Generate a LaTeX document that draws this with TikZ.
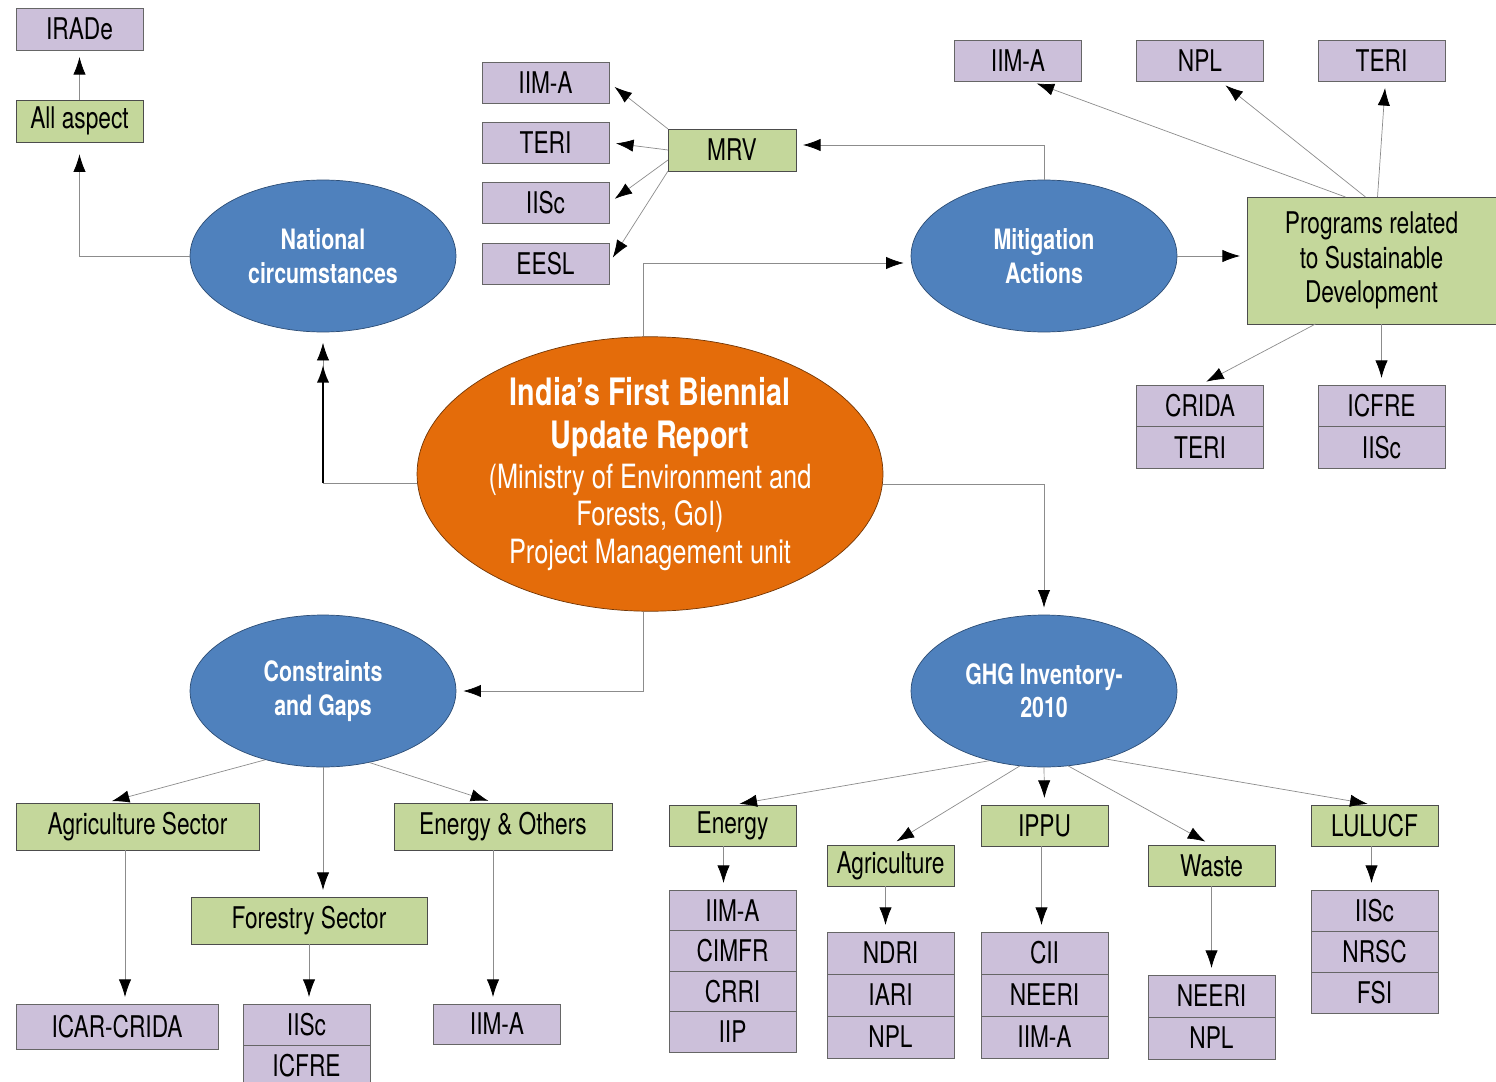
\documentclass[tikz,border=0pt]{standalone}
\usepackage{fontspec}
\setmainfont{TeX Gyre Heros}[FakeStretch=0.76]
\usetikzlibrary{arrows.meta,shapes.geometric,positioning}
\definecolor{orgfill}{HTML}{CCC0DA}
\definecolor{secfill}{HTML}{C4D79B}
\definecolor{circfill}{HTML}{4F81BD}
\definecolor{circline}{HTML}{2C4D75}
\definecolor{hubfill}{HTML}{E46C0A}
\definecolor{linkgray}{HTML}{8C8C8C}
\newcommand\hubtitle{\bfseries\fontsize{21.5}{21.5}\selectfont}
\tikzset{
  basic/.style  = {draw, rectangle, inner sep=2pt, outer sep=0pt, align=center,
                   font=\fontsize{17}{19.5}\selectfont},
  org/.style    = {basic, fill=orgfill, draw=black!60, minimum width=2.54cm,
                   minimum height=0.82cm},
  sector/.style = {basic, fill=secfill, draw=black!70, minimum width=2.54cm,
                   minimum height=0.82cm},
  circ/.style   = {ellipse, draw=circline, fill=circfill, text=white, inner sep=0pt,
                   minimum width=5.32cm, minimum height=3.04cm, align=center,
                   font=\bfseries\fontsize{16}{19}\selectfont},
  hub/.style    = {ellipse, draw=black!50!hubfill, fill=hubfill, text=white,
                   inner sep=0pt, minimum width=9.32cm, minimum height=5.36cm,
                   align=center, font=\fontsize{19}{21.5}\selectfont},
  link/.style   = {draw=linkgray, ->, shorten >=4pt}
}
\begin{document}
\begin{tikzpicture}[x=0.02cm, y=-0.02cm, >={Latex[black,length=10pt,width=7pt]}]
\useasboundingbox (0,0) rectangle (1496,1081);

% centre and the four topics
\node[hub] (bur) at (650,474) {\hubtitle India’s First Biennial\\[3pt]
  \hubtitle Update Report\\[1.3pt]
  (Ministry of Environment and\\
  Forests, GoI)\\
  Project Management unit};
\node[circ] (natl) at (323,256) {National\\circumstances};
\node[circ] (mitig) at (1044,256) {Mitigation\\Actions};
\node[circ] (cons) at (323,691) {Constraints\\and Gaps};
\node[circ] (ghg) at (1044,691) {GHG Inventory-\\2010};

% national circumstances
\node[sector, minimum height=0.84cm] (allasp) at (79.5,121) {All aspect};
\node[org, minimum height=0.84cm] (irade) at (79.5,29) {IRADe};

% MRV branch
\node[sector, minimum width=2.56cm, minimum height=0.84cm] (mrv) at (732,150) {MRV};
\node[org] (mrv1) at (545.5,82.5) {IIM-A};
\node[org] (mrv2) at (545.5,142.5) {TERI};
\node[org] (mrv3) at (545.5,203) {IISc};
\node[org] (mrv4) at (545.5,263.5) {EESL};

% sustainable development programs
\node[sector, minimum width=4.98cm, minimum height=2.54cm] (prog) at (1371.5,260.5)
  {Programs related\\to Sustainable\\Development};
\node[org] (prog1) at (1018,60.5) {IIM-A};
\node[org] (prog2) at (1200,60.5) {NPL};
\node[org] (prog3) at (1381.5,60.5) {TERI};
\node[org, minimum height=0.83cm, anchor=north] (prog4) at (1200,385) {CRIDA};
\node[org, minimum height=0.83cm, below=0pt of prog4] (prog5) {TERI};
\node[org, minimum height=0.83cm, anchor=north] (prog6) at (1381.5,385) {ICFRE};
\node[org, minimum height=0.83cm, below=0pt of prog6] (prog7) {IISc};

% constraints and gaps
\node[sector, minimum width=4.86cm, minimum height=0.94cm] (agrsec) at (137.5,826.5) {Agriculture Sector};
\node[sector, minimum width=4.36cm, minimum height=0.94cm] (enoth) at (503,826.5) {Energy \& Others};
\node[sector, minimum width=4.72cm, minimum height=0.94cm] (forsec) at (309,920.5) {Forestry Sector};
\node[org, minimum width=4.04cm, minimum height=0.9cm] (icar) at (117,1026.5) {ICAR-CRIDA};
\node[org, anchor=north] (fors1) at (306.5,1004) {IISc};
\node[org, below=0pt of fors1] (fors2) {ICFRE};
\node[org, minimum height=0.8cm] (enoth1) at (497,1024) {IIM-A};

% GHG inventory sectors
\node[sector] (energy) at (732.5,825.5) {Energy};
\node[sector] (agri) at (890.5,865.5) {Agriculture};
\node[sector] (ippu) at (1044.5,825.5) {IPPU};
\node[sector] (waste) at (1211.5,865.5) {Waste};
\node[sector] (lulucf) at (1374.5,825.5) {LULUCF};

\begin{scope}[every node/.style={org, minimum height=0.81cm}]
\node[anchor=north] (en1) at (732.5,890) {IIM-A};
\node[below=0pt of en1] (en2) {CIMFR};
\node[below=0pt of en2] (en3) {CRRI};
\node[below=0pt of en3] (en4) {IIP};
\end{scope}

\begin{scope}[every node/.style={org, minimum height=0.84cm}]
\node[anchor=north] (ag1) at (890.5,932) {NDRI};
\node[below=0pt of ag1] (ag2) {IARI};
\node[below=0pt of ag2] (ag3) {NPL};

\node[anchor=north] (ip1) at (1044.5,932) {CII};
\node[below=0pt of ip1] (ip2) {NEERI};
\node[below=0pt of ip2] (ip3) {IIM-A};

\node[anchor=north] (wa1) at (1211.5,975) {NEERI};
\node[below=0pt of wa1] (wa2) {NPL};
\end{scope}

\begin{scope}[every node/.style={org}]
\node[anchor=north] (lu1) at (1374.5,890) {IISc};
\node[below=0pt of lu1] (lu2) {NRSC};
\node[below=0pt of lu2] (lu3) {FSI};
\end{scope}

% connectors from the centre
\coordinate (natbend) at ([yshift=-0.18cm]bur.west -| natl.south);
\draw[link, shorten >=6pt] ([yshift=-0.18cm]bur.west) -| (natl.south);
\draw[very thick, ->] (natbend) -- ++(0,-118);
\draw[link] ([xshift=-0.14cm]bur.north) |- ([yshift=-0.14cm]mitig.west);
\draw[link] ([yshift=-0.2cm]bur.east) -| (ghg.north);
\draw[link] ([xshift=-0.14cm]bur.south) |- (cons.east);

% national circumstances
\draw[link, shorten >=7pt] (natl.west) -| (allasp.south);
\draw[link] (allasp.north) -- (irade.south);

% mitigation actions
\draw[link] (mitig.north) |- ([yshift=0.1cm]mrv.east);
\draw[link] (mrv.north west) -- (mrv1.east);
\draw[link] (mrv.west) -- (mrv2.east);
\draw[link] ([yshift=-0.2cm]mrv.west) -- (mrv3.east);
\draw[link] (mrv.south west) -- (mrv4.east);
\draw[link] (mitig.east) -- (mitig.east -| prog.west);
\draw[link] ([xshift=-0.52cm]prog.north) -- ([xshift=0.24cm]prog1.south);
\draw[link] ([xshift=-0.12cm]prog.north) -- ([xshift=0.4cm]prog2.south);
\draw[link] ([xshift=0.12cm]prog.north) -- ([xshift=0.08cm]prog3.south);
\draw[link] ([xshift=-1.12cm]prog.south) -- (prog4.north);
\draw[link] (prog6.north |- prog.south) -- (prog6.north);

% constraints and gaps
\draw[link] (cons.230) -- ([xshift=-0.65cm]agrsec.north);
\draw[link] (cons.south) -- (cons.south |- forsec.north);
\draw[link] (cons.303) -- ([xshift=-0.16cm]enoth.north);
\draw[link] ([xshift=0.16cm]icar.north |- agrsec.south) -- ([xshift=0.16cm]icar.north);
\draw[link] (forsec.south) -- (forsec.south |- fors1.north);
\draw[link] ([xshift=-0.08cm]enoth1.north |- enoth.south) -- ([xshift=-0.08cm]enoth1.north);

% GHG inventory
\draw[link] (ghg.232) -- (energy.north);
\draw[link] (ghg.252) -- (agri.north);
\draw[link] (ghg.south) -- (ippu.north);
\draw[link] (ghg.288) -- (waste.north);
\draw[link] (ghg.312) -- (lulucf.north);
\draw[link] ([xshift=-0.18cm]energy.south) -- ([xshift=-0.18cm]en1.north);
\draw[link] ([xshift=-0.1cm]agri.south) -- ([xshift=-0.1cm]ag1.north);
\draw[link] ([xshift=-0.06cm]ippu.south) -- ([xshift=-0.06cm]ip1.north);
\draw[link] (waste.south) -- (wa1.north);
\draw[link] ([xshift=-0.06cm]lulucf.south) -- ([xshift=-0.06cm]lu1.north);
\end{tikzpicture}
\end{document}
